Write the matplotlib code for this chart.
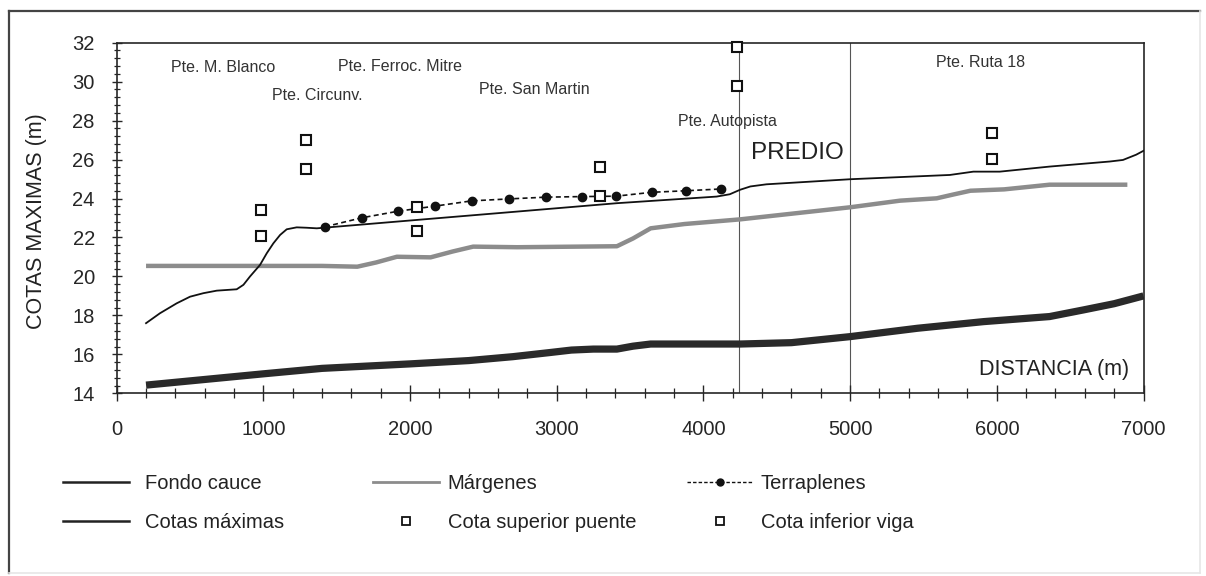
import matplotlib
matplotlib.use("Agg")
import matplotlib.pyplot as plt
from matplotlib.lines import Line2D
from matplotlib.ticker import MultipleLocator

plt.rcParams['font.family'] = ['Liberation Sans', 'DejaVu Sans']

# ---- data ----
fondo_x = [200, 1000, 1400, 2000, 2400, 2700, 2950, 3100, 3250, 3410, 3520, 3640, 4250, 4600, 5000, 5460, 5910, 6360, 6590, 6800, 7000]
fondo_y = [14.42, 15.0, 15.28, 15.51, 15.68, 15.88, 16.09, 16.22, 16.27, 16.27, 16.42, 16.53, 16.53, 16.6, 16.91, 17.34, 17.68, 17.94, 18.28, 18.6, 19.0]

marg_x = [200, 1400, 1640, 1770, 1910, 2140, 2290, 2430, 2730, 3410, 3520, 3640, 3870, 4250, 5000, 5340, 5590, 5700, 5820, 6050, 6360, 6890]
marg_y = [20.54, 20.54, 20.5, 20.72, 21.01, 20.98, 21.28, 21.53, 21.5, 21.55, 21.95, 22.47, 22.69, 22.93, 23.55, 23.89, 24.01, 24.2, 24.4, 24.47, 24.71, 24.71]

cotas_x = [200, 295, 409, 500, 591, 682, 818, 864, 909, 977, 1023, 1068, 1114, 1159, 1227, 1295, 1364, 2045, 2730, 3410, 4090, 4180, 4250, 4320, 4430, 5000, 5680, 5840, 6020, 6360, 6770, 6860, 6950, 7000]
cotas_y = [17.6, 18.11, 18.62, 18.96, 19.14, 19.27, 19.34, 19.57, 20.0, 20.59, 21.19, 21.7, 22.13, 22.42, 22.52, 22.5, 22.47, 22.9, 23.33, 23.76, 24.1, 24.22, 24.45, 24.62, 24.73, 24.99, 25.21, 25.38, 25.38, 25.64, 25.9, 25.98, 26.25, 26.45]

terr_x = [1420, 1670, 1920, 2170, 2420, 2675, 2925, 3175, 3405, 3648, 3884, 4120]
terr_y = [22.55, 23.01, 23.35, 23.61, 23.88, 23.98, 24.07, 24.1, 24.12, 24.32, 24.4, 24.49]

puente_x = [985, 1290, 2045, 3295, 4227, 5966]
sup_puente = [23.4, 27.0, 23.58, 25.63, 31.8, 27.35]
inf_viga = [22.08, 25.5, 22.33, 24.12, 29.8, 26.01]

predio_lines = [4240, 5000]

bridge_names = ["Pte. M. Blanco", "Pte. Circunv.", "Pte. Ferroc. Mitre", "Pte. San Martin",
                "Pte. Autopista", "Pte. Ruta 18"]
bridge_lx = [727, 1366, 1931, 2844, 4164, 5890]
bridge_ly = [30.75, 29.31, 30.77, 29.6, 27.94, 30.97]

legend_labels = ["Fondo cauce", "Márgenes", "Terraplenes",
                 "Cotas máximas", "Cota superior puente", "Cota inferior viga"]

# ---- figure ----
W, H = 1206, 576
fig = plt.figure(figsize=(W / 100, H / 100), dpi=100)
ax_l, ax_r, ax_t, ax_b = 116.7, 1143.5, 42.7, 393.3
ax = fig.add_axes([ax_l / W, 1 - ax_b / H, (ax_r - ax_l) / W, (ax_b - ax_t) / H])

dark = '#262626'
ax.plot(fondo_x, fondo_y, color='#2a2a2a', lw=5.2, solid_capstyle='butt',
        solid_joinstyle='round', zorder=2)
ax.plot(marg_x, marg_y, color='#8c8c8c', lw=3.2, solid_capstyle='butt',
        solid_joinstyle='round', zorder=2)
ax.plot(cotas_x, cotas_y, color='#111111', lw=1.3, solid_joinstyle='round', zorder=3)
ax.plot(terr_x, terr_y, color='#111111', lw=1.2, ls=(0, (3, 2)), marker='o',
        ms=6, mfc='#111111', mec='#111111', zorder=4)
ax.plot(puente_x, sup_puente, ls='none', marker='s', ms=6.5, mfc='white',
        mec='#111111', mew=1.5, zorder=5, clip_on=False)
ax.plot(puente_x, inf_viga, ls='none', marker='s', ms=6.5, mfc='white',
        mec='#111111', mew=1.5, zorder=5, clip_on=False)
for xv in predio_lines:
    ax.axvline(xv, color='#555555', lw=0.8, zorder=1)

for name, lx, ly in zip(bridge_names, bridge_lx, bridge_ly):
    ax.text(lx, ly, name, ha='center', va='center', fontsize=11.5, color='#333333')
ax.text(4638, 26.35, "PREDIO", ha='center', va='center', fontsize=17.5, color='#222222')
ax.text(6899, 15.2, "DISTANCIA (m)", ha='right', va='center', fontsize=15.5, color='#222222')

ax.set_xlim(0, 7000)
ax.set_ylim(14, 32)
ax.xaxis.set_major_locator(MultipleLocator(1000))
ax.xaxis.set_minor_locator(MultipleLocator(200))
ax.yaxis.set_major_locator(MultipleLocator(2))
ax.yaxis.set_minor_locator(MultipleLocator(0.4))
ax.tick_params(axis='x', which='major', direction='inout', length=11, width=1.0,
               labelsize=14.5, pad=14, colors=dark)
ax.tick_params(axis='x', which='minor', direction='inout', length=7, width=0.9, colors=dark)
ax.tick_params(axis='y', which='major', direction='inout', length=7.5, width=1.0,
               labelsize=14.5, pad=12, colors=dark)
ax.tick_params(axis='y', which='minor', direction='inout', length=5, width=0.9, colors=dark)
for s in ax.spines.values():
    s.set_color(dark)
    s.set_linewidth(1.2)
ax.set_ylabel("COTAS MAXIMAS (m)", fontsize=15.5, color='#222222')
ax.yaxis.set_label_coords((47 - ax_l) / (ax_r - ax_l), 0.49)

# ---- legends (three columns, two rows) ----
fs = 14.5
h_fondo = Line2D([], [], color='#222222', lw=1.8)
h_marg = Line2D([], [], color='#8c8c8c', lw=2.0)
h_terr = Line2D([], [], color='#111111', lw=1.0, ls=(0, (2.5, 1.5)), marker='o', ms=5, mfc='#111111')
h_cotas = Line2D([], [], color='#222222', lw=1.8)
h_sup = Line2D([], [], ls='none', marker='s', ms=5.5, mfc='white', mec='#111111', mew=1.3)
h_inf = Line2D([], [], ls='none', marker='s', ms=5.5, mfc='white', mec='#111111', mew=1.3)

cols = [((h_fondo, h_cotas), (legend_labels[0], legend_labels[3]), 63, 0.75),
        ((h_marg, h_sup), (legend_labels[1], legend_labels[4]), 373, 0.4),
        ((h_terr, h_inf), (legend_labels[2], legend_labels[5]), 687, 0.35)]
for hs, ls_, x0, tp in cols:
    leg = fig.legend(hs, ls_, loc='center left', bbox_to_anchor=(x0 / W, 1 - 503 / H),
                     frameon=False, fontsize=fs, handlelength=3.3, handletextpad=tp,
                     borderpad=0, borderaxespad=0, labelspacing=0.95)
    for t in leg.get_texts():
        t.set_color('#222222')

# ---- outer frame ----
fig.add_artist(Line2D([9 / W, 9 / W], [1 - 11 / H, 1 - 573 / H], color='#444444', lw=1.6))
fig.add_artist(Line2D([9 / W, 1200 / W], [1 - 11 / H, 1 - 11 / H], color='#444444', lw=1.6))
fig.add_artist(Line2D([1200 / W, 1200 / W], [1 - 11 / H, 1 - 573 / H], color='#e6e6e6', lw=1.2))
fig.add_artist(Line2D([9 / W, 1200 / W], [1 - 573 / H, 1 - 573 / H], color='#e6e6e6', lw=1.2))

fig.savefig("out.png", dpi=100)
